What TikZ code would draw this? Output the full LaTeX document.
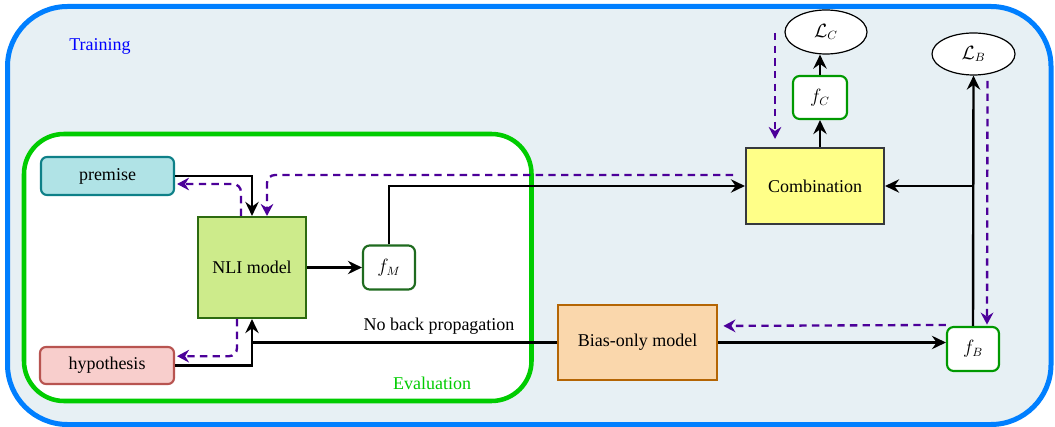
\documentclass[tikz,border=0pt]{standalone}
\usepackage{fontspec}
\setmainfont{Liberation Serif}
\usetikzlibrary{arrows.meta,shapes.geometric}
\definecolor{outerfill}{HTML}{E7F0F4}
\definecolor{outerline}{HTML}{007FFF}
\definecolor{evalgreen}{HTML}{00CC00}
\definecolor{premfill}{HTML}{B0E3E6}
\definecolor{premline}{HTML}{0E8088}
\definecolor{nlifill}{HTML}{CDEB8B}
\definecolor{nliline}{HTML}{2D6B10}
\definecolor{hypfill}{HTML}{F8CECC}
\definecolor{hypline}{HTML}{B85450}
\definecolor{combfill}{HTML}{FFFF88}
\definecolor{combline}{HTML}{36393D}
\definecolor{biasfill}{HTML}{FAD7AC}
\definecolor{biasline}{HTML}{B46504}
\definecolor{fmline}{HTML}{1F6B1F}
\definecolor{fline}{HTML}{009900}
\definecolor{backcol}{HTML}{4C0099}
\begin{document}
\begin{tikzpicture}[x=0.75pt,y=-0.75pt,
  font=\fontsize{13.5}{16}\selectfont,
  box/.style={draw, line width=1.6pt, inner sep=0pt, align=center},
  rbox/.style={box, rounded corners=4.5pt},
  fbox/.style={rbox, fill=white, minimum width=39pt, minimum height=33pt},
  loss/.style={draw, ellipse, fill=white, line width=0.9pt, inner sep=0pt},
  arr/.style={draw, line width=1.8pt, -{Stealth[length=10.5pt,width=10pt,inset=3.5pt]}},
  plain/.style={draw, line width=1.8pt},
  darr/.style={draw=backcol, line width=1.75pt, dash pattern=on 5.5pt off 4pt,
    -{Stealth[length=9pt,width=9.5pt,inset=3pt]}, rounded corners=6pt}]
\useasboundingbox (0,0) rectangle (1055,427);
% outer training frame
\draw[line width=3.75pt, draw=outerline, fill=outerfill, rounded corners=45pt]
  (7.5,6.5) rectangle (1051,424.5);
\node[text=blue] (training) at (100,46) {Training};
% evaluation frame
\draw[line width=3.4pt, draw=evalgreen, fill=white, rounded corners=30pt]
  (24,134) rectangle (531.5,401);
\node[text=evalgreen] (evaluation) at (432,383) {Evaluation};
% nodes
\node[rbox, fill=premfill, draw=premline, minimum width=99.75pt, minimum height=28.5pt] (premise) at (107.5,176) {premise};
\node[rbox, fill=hypfill, draw=hypline, minimum width=100.5pt, minimum height=27.75pt] (hyp) at (107,365.5) {hypothesis};
\node[box, fill=nlifill, draw=nliline, minimum width=81pt, minimum height=75.75pt] (nli) at (252,267.5) {NLI model};
\node[fbox, draw=fmline, rounded corners=5pt] (fM) at (389,267.5) {$f_M$};
\node[box, fill=combfill, draw=combline, minimum width=103.5pt, minimum height=57pt] (comb) at (815,186) {Combination};
\node[fbox, draw=fline, rounded corners=5pt, minimum width=40.5pt, minimum height=32.25pt] (fC) at (820,97.5) {$f_C$};
\node[loss, minimum width=61.5pt, minimum height=33pt] (LC) at (826,32) {$\mathcal{L}_C$};
\node[loss, minimum width=62.25pt, minimum height=31.5pt] (LB) at (973.5,54) {$\mathcal{L}_B$};
\node[box, fill=biasfill, draw=biasline, minimum width=119.25pt, minimum height=56.25pt] (bias) at (637.5,342.5) {Bias-only model};
\node[fbox, draw=fline, rounded corners=5pt] (fB) at (973,349) {$f_B$};
\node (nobp) at (439,326) {No back propagation};
% solid connectors
\draw[arr] (premise.east) -| (nli.north);
\draw[arr] (hyp.east) -| (nli.south);
\draw[plain] (bias.west) -- (nli.south |- bias.west);
\draw[arr] (nli.east) -- (fM.west);
\draw[arr] (fM.north) |- (comb.west);
\draw[arr] (fC.south |- comb.north) -- (fC.south);
\draw[arr] (fC.north) -- (LC.south -| fC.north);
\draw[arr] (bias.east) -- (bias.east -| fB.west);
\draw[arr] (fB.north) -- (LB.south);
\coordinate (junction) at (fB.north |- comb.east);
\draw[arr] (junction) -- (comb.east);
% dashed back-propagation connectors
\coordinate (d1) at (775,33);
\draw[darr] (d1) -- ([yshift=6pt]comb.north -| d1);
\coordinate (d2) at (733,175);
\draw[darr] (d2) -| ([xshift=11.25pt]nli.north);
\draw[darr] ([xshift=-8.25pt]nli.north) |- ([yshift=-6pt,xshift=1.5pt]premise.east);
\draw[darr] ([xshift=-11.25pt]nli.south) |- ([yshift=7pt,xshift=1.5pt]hyp.east);
\draw[darr] ([xshift=10.5pt,yshift=-4pt]LB.south) -- ([xshift=10.5pt,yshift=1pt]fB.north);
\draw[darr] ([yshift=0.75pt]fB.north west) -- ([xshift=4pt]fB.north west -| bias.east);
\end{tikzpicture}
\end{document}
